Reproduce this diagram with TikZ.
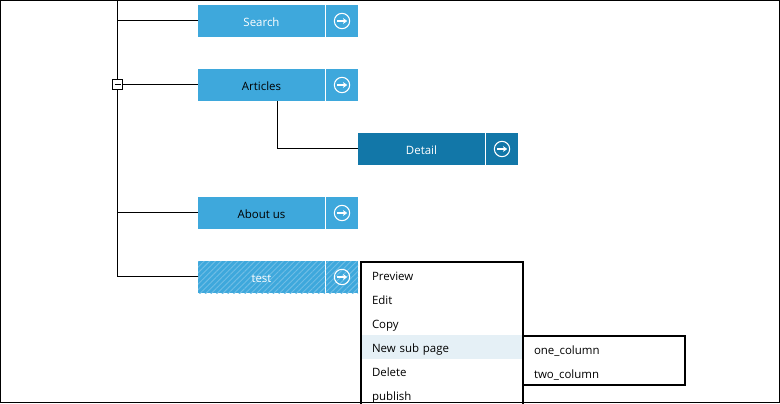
\documentclass[tikz,border=0pt]{standalone}
\usepackage{fontspec}
\setmainfont{Open Sans}
\usetikzlibrary{arrows.meta, positioning, patterns.meta}

\definecolor{pageblue}{HTML}{3EA8DC}
\definecolor{detailblue}{HTML}{1277A8}
\definecolor{hatchblue}{HTML}{6FBDE5}
\definecolor{menuhover}{HTML}{E5F0F6}

\begin{document}
\begin{tikzpicture}[
    x=0.75pt, y=-0.75pt,
    node distance=0.75pt,
    % --- block styles ---
    pagebox/.style={
        fill=pageblue, minimum height=24pt, minimum width=95.25pt,
        inner sep=0pt, outer sep=0pt, anchor=north west,
        font=\fontsize{8.6}{11}\selectfont, text height=8.5pt, text depth=0.5pt},
    gobox/.style={
        fill=pageblue, minimum height=24pt, minimum width=24pt,
        inner sep=0pt, outer sep=0pt},
    detailfill/.style={fill=detailblue},
    hatched/.style={
        preaction={fill=pageblue},
        pattern={Lines[angle=45, distance=3pt, line width=0.7pt]},
        pattern color=hatchblue},
    gocircle/.style={
        draw=white, circle, line width=0.8pt, minimum size=11.5pt, inner sep=0pt},
    goarrow/.style={
        -{Stealth[length=3.2pt, width=4.4pt]}, white, line width=0.8pt},
    treeline/.style={draw=black, line width=0.75pt},
    toggle/.style={
        draw=black, fill=white, line width=0.75pt, minimum size=7.5pt,
        inner sep=0pt, outer sep=0pt},
    menubox/.style={
        draw=black, fill=white, line width=1.5pt, anchor=north west,
        inner sep=0pt, outer sep=0pt},
    menuitem/.style={
        minimum height=18pt, minimum width=120pt, inner sep=0pt, outer sep=0pt,
        text width=105pt, align=left, anchor=north west,
        font=\fontsize{8.6}{11}\selectfont, text height=8.5pt, text depth=0.5pt},
]
\useasboundingbox (0,0) rectangle (780,403);
\fill[white] (0,0) rectangle (780,403);

% ===== PAGE BUTTONS =====
\node[pagebox, text=white] (search) at (198,5) {Search};
\node[gobox, right=of search] (searchgo) {};

\node[pagebox, text=black] (articles) at (198,69) {Articles};
\node[gobox, right=of articles] (articlesgo) {};

\node[pagebox, detailfill, text=white] (detail) at (358,133) {Detail};
\node[gobox, detailfill, right=of detail] (detailgo) {};

\node[pagebox, text=black] (about) at (198,197) {About us};
\node[gobox, right=of about] (aboutgo) {};

\node[pagebox, hatched, text=white] (test) at (198,261) {test};
\node[gobox, hatched, right=of test] (testgo) {};

\foreach \b in {searchgo,articlesgo,detailgo,aboutgo,testgo}{
    \node[gocircle] (\b ring) at (\b) {};
    \draw[goarrow] ([xshift=-3.6pt]\b.center) -- ([xshift=3.9pt]\b.center);
}

% ===== TREE LINES =====
\coordinate (treetop) at (117,0);
\draw[treeline] (treetop) |- ([yshift=0.375pt]test.west);
\draw[treeline] (treetop) |- ([yshift=0.375pt]search.west);
\draw[treeline] (treetop) |- ([yshift=0.375pt]articles.west);
\draw[treeline] (treetop) |- ([yshift=0.375pt]about.west);
\draw[treeline] ([xshift=11.625pt]articles.south) |- ([yshift=0.375pt]detail.west);

\node[toggle, anchor=center] (collapse) at (117.5,84.5) {};
\draw[treeline] ([xshift=1.5pt]collapse.west) -- ([xshift=-1.5pt]collapse.east);

% ===== CONTEXT MENU =====
\node[menubox, minimum width=121.5pt, minimum height=114pt] (menu) at (361,262) {};
\node[menuitem] (preview) at (362,263) {Preview};
\node[menuitem, below=0pt of preview] (edit) {Edit};
\node[menuitem, below=0pt of edit] (copy) {Copy};
\node[menuitem, below=0pt of copy, fill=menuhover] (newsub) {New sub page};
\node[menuitem, below=0pt of newsub] (delete) {Delete};
\node[menuitem, below=0pt of delete] (publish) {publish};

% ===== SUB MENU =====
\node[menubox, minimum width=121.5pt, minimum height=36.75pt] (submenu) at (523,336) {};
\node[menuitem] (onecol) at (524,337) {one\_column};
\node[menuitem, below=0pt of onecol] (twocol) {two\_column};

% ===== OUTER FRAME =====
\draw[black, line width=0.75pt] (0.5,0.5) rectangle (779.5,402.5);

\end{tikzpicture}
\end{document}
